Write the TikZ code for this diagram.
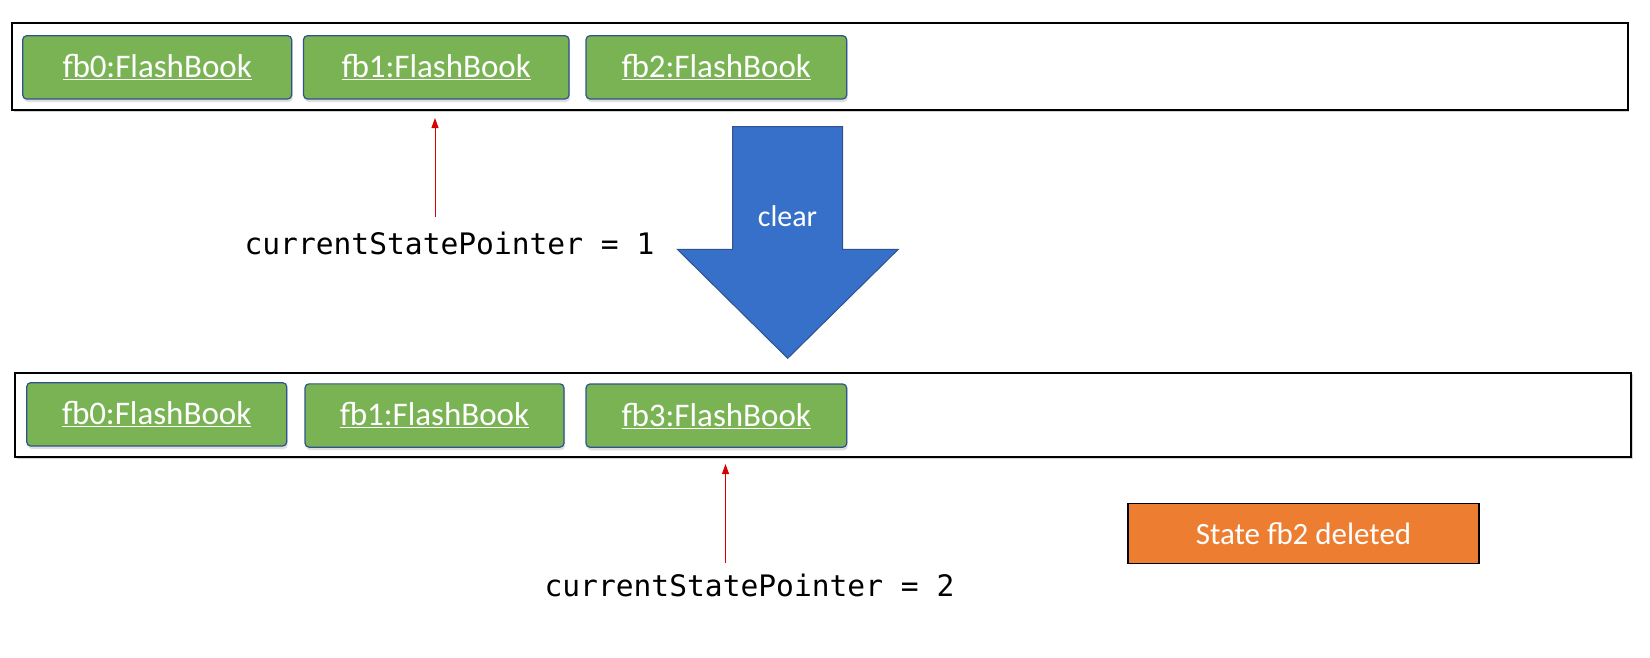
\documentclass[tikz,border=0pt]{standalone}
\usepackage{fontspec}
\setmainfont{Carlito}
\newfontfamily\codefont{DejaVu Sans Mono}
\usetikzlibrary{shadows,arrows.meta}
\definecolor{boxgreen}{HTML}{7AB354}
\definecolor{boxblue}{HTML}{2F528F}
\definecolor{arrowblue}{HTML}{3670C8}
\definecolor{noteorange}{HTML}{ED7D31}
\definecolor{ptrred}{HTML}{D90000}
\begin{document}
\begin{tikzpicture}[x=1pt,y=-1pt,
  frame/.style={draw=black, line width=2pt, fill=white, inner sep=0pt,
    drop shadow={shadow xshift=1.5pt, shadow yshift=-1.5pt, opacity=0.35}},
  state/.style={draw=boxblue, line width=1.2pt, fill=boxgreen, rounded corners=4pt,
    text=white, inner sep=0pt, font=\fontsize{33}{38}\selectfont,
    drop shadow={shadow xshift=1pt, shadow yshift=-3pt, opacity=0.25}},
  ptrlabel/.style={inner sep=0pt, font=\codefont\fontsize{29.6}{34}\selectfont},
  ptr/.style={draw=ptrred, line width=1pt, -{Triangle[length=10pt,width=7pt]}},
  note/.style={draw=black, line width=1.5pt, fill=noteorange, text=white, inner sep=0pt,
    minimum width=351pt, minimum height=60pt, font=\fontsize{31}{36}\selectfont},
  blockarrow/.style={draw=boxblue, line width=1pt, fill=arrowblue}
]
\useasboundingbox (0,0) rectangle (1650,657);

% top state list
\node[frame, minimum width=1615.7pt, minimum height=87.3pt] (topframe) at (819.85,66.35) {};
\node[state, minimum width=269pt, minimum height=63.3pt] (t0) at (157.2,67.35) {\underline{fb0:FlashBook}};
\node[state, minimum width=265.5pt, minimum height=63.3pt] (t1) at (436.25,67.35) {\underline{fb1:FlashBook}};
\node[state, minimum width=260.7pt, minimum height=63.3pt] (t2) at (716.35,67.35) {\underline{fb2:FlashBook}};

% bottom state list
\node[frame, minimum width=1615.7pt, minimum height=84.3pt] (botframe) at (823.15,414.85) {};
\node[state, minimum width=260pt, minimum height=63.3pt] (b0) at (156.7,414.35) {\underline{fb0:FlashBook}};
\node[state, minimum width=259pt, minimum height=63.3pt] (b1) at (434.5,415.5) {\underline{fb1:FlashBook}};
\node[state, minimum width=260.7pt, minimum height=63.3pt] (b3) at (716.35,415.65) {\underline{fb3:FlashBook}};

% clear block arrow
\draw[blockarrow] (732.7,126.7) -- (842.7,126.7) -- (842.7,249.3) -- (898.3,249.3)
  -- (787.7,358.3) -- (677.3,249.3) -- (732.7,249.3) -- cycle;
\node[text=white, inner sep=0pt, font=\fontsize{30}{36}\selectfont] (clearlbl) at (787.5,216) {clear};

% pointers
\node[ptrlabel] (ptr1) at (449.5,243) {currentStatePointer = 1};
\coordinate (ptr1tail) at (435,217);
\coordinate (ptr1tip) at (435,118);
\draw[ptr] (ptr1tail) -- (ptr1tip);

\node[ptrlabel] (ptr2) at (749.5,585) {currentStatePointer = 2};
\coordinate (ptr2tail) at (725.5,563);
\coordinate (ptr2tip) at (725.5,464);
\draw[ptr] (ptr2tail) -- (ptr2tip);

% note
\node[note] (deleted) at (1303.5,533.3) {State fb2 deleted};
\end{tikzpicture}
\end{document}
